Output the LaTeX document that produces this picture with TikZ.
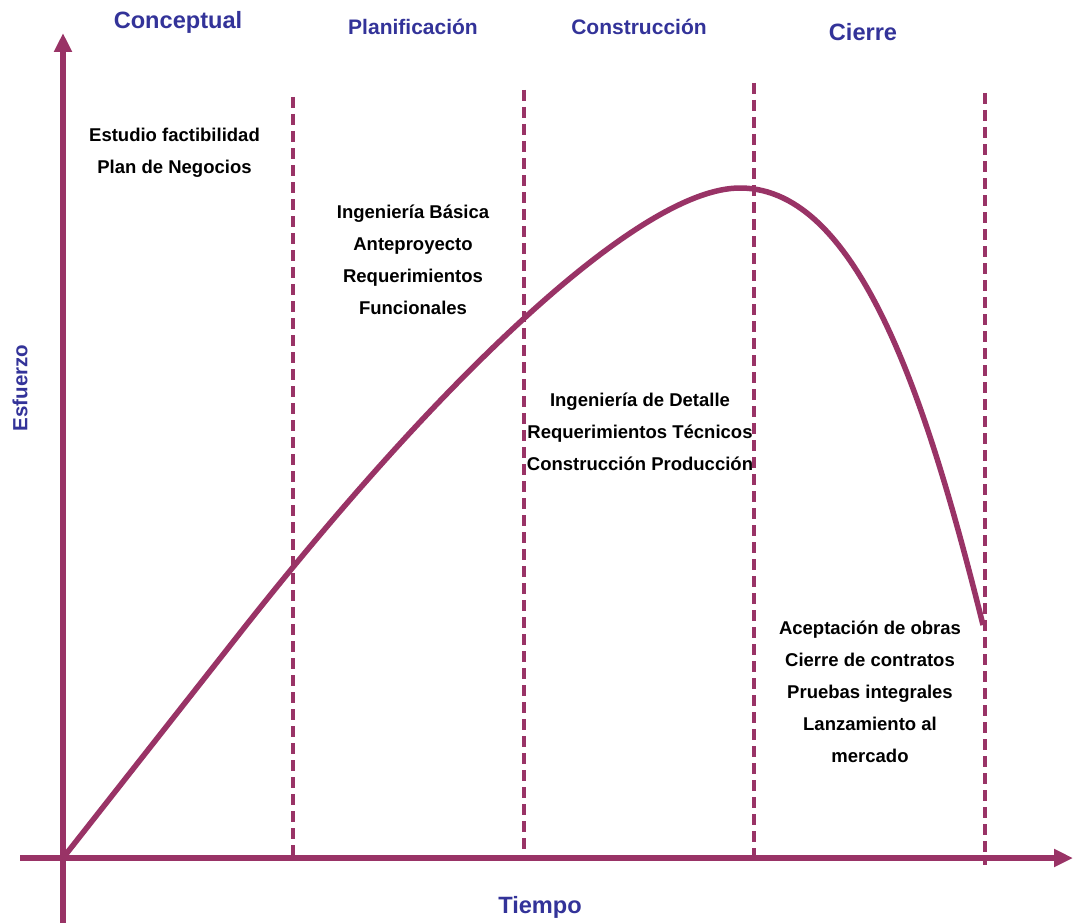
\documentclass[tikz,border=0pt]{standalone}
\usepackage{fontspec}
\setmainfont{Liberation Sans}
\usetikzlibrary{arrows.meta}
\definecolor{plum}{RGB}{153,51,102}
\definecolor{phaseblue}{RGB}{51,51,153}
\begin{document}
\begin{tikzpicture}[x=1pt,y=-1pt,
  axisline/.style={draw=plum,line width=5.5pt,-{Triangle[length=19pt,width=17pt]}},
  phaseline/.style={draw=plum,line width=3.2pt,dash pattern=on 11pt off 6pt},
  effort/.style={draw=plum,line width=5.5pt,line join=round},
  phasetitle/.style={text=phaseblue,font=\bfseries\fontsize{21}{25}\selectfont,inner sep=0pt},
  bigtitle/.style={phasetitle,font=\bfseries\fontsize{23.6}{28}\selectfont},
  tasks/.style={align=center,font=\bfseries\fontsize{18.5}{32}\selectfont,inner sep=0pt}]
\useasboundingbox (0,0) rectangle (1073,923);
\fill[white] (0,0) rectangle (1073,923);

% axes
\coordinate (o) at (63,858);
\coordinate (ybot) at (63,923);
\coordinate (ytop) at (63,33);
\coordinate (xleft) at (20,858);
\coordinate (xright) at (1073,858);
\draw[axisline] (ybot) -- (ytop);
\draw[axisline] (xleft) -- (xright);

% phase boundaries
\coordinate (d1t) at (293,97);  \coordinate (d1b) at (293,860);
\coordinate (d2t) at (524,90);  \coordinate (d2b) at (524,860);
\coordinate (d3t) at (754,83);  \coordinate (d3b) at (754,860);
\coordinate (d4t) at (985,93);  \coordinate (d4b) at (985,865);
\draw[phaseline] (d1t) -- (d1b);
\draw[phaseline] (d2t) -- (d2b);
\draw[phaseline] (d3t) -- (d3b);
\draw[phaseline] (d4t) -- (d4b);

% effort curve: steady rise, peak during construction, drop at closing
\coordinate (bend) at (240,633);
\coordinate (peak) at (740,188);
\coordinate (cend) at (983,625);
\draw[effort] (o) -- (bend)
  .. controls (440,379) and (640,188) .. (peak)
  .. controls (860,188) and (928,405) .. (cend);

% phase titles
\node[bigtitle] (conc) at (178,22) {Conceptual};
\node[phasetitle] (plan) at (413,27) {Planificación};
\node[phasetitle] (cons) at (639,27) {Construcción};
\node[bigtitle] (cier) at (863,32) {Cierre};

% axis labels
\node[bigtitle] (tiempo) at (540,907) {Tiempo};
\node[phasetitle,font=\bfseries\fontsize{20.5}{25}\selectfont,rotate=90] (esf) at (20,388) {Esfuerzo};

% activities per phase
\node[tasks] (t1) at (174.5,153) {Estudio factibilidad\\Plan de Negocios};
\node[tasks] (t2) at (413,260) {Ingeniería Básica\\Anteproyecto\\Requerimientos\\Funcionales};
\node[tasks] (t3) at (640,431.5) {Ingeniería de Detalle\\Requerimientos Técnicos\\Construcción Producción};
\node[tasks] (t4) at (870,692) {Aceptación de obras\\Cierre de contratos\\Pruebas integrales\\Lanzamiento al\\mercado};
\end{tikzpicture}
\end{document}
